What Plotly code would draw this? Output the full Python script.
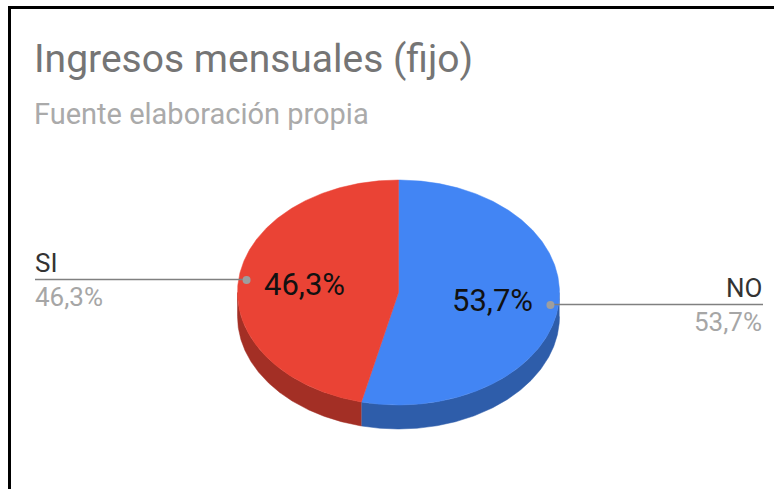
import numpy as np
import plotly.graph_objects as go

# Data
categories = ["NO", "SI"]
values = [53.7, 46.3]
value_labels = ["53,7%", "46,3%"]
title_text = "Ingresos mensuales (fijo)"
subtitle_text = "Fuente elaboración propia"

# Styling / geometry of the tilted pie (pixels of the 774x489 canvas)
W, H = 774, 489
CX, CY, RX, RY, DEPTH = 398.5, 292.5, 161.0, 112.5, 24.0
TOP_COLORS = ["#4285f4", "#ea4335"]
SIDE_COLORS = ["#2e5daa", "#a32f25"]
GREY_LINE = "#808080"
DOT = "#9e9e9e"
FONT = "Roboto"


def pt(deg, f=1.0, dy=0.0):
    a = np.radians(deg)
    return CX + RX * f * np.sin(a), CY - RY * f * np.cos(a) + dy


def arc(a0, a1, dy=0.0):
    n = max(2, int(abs(a1 - a0) * 2) + 1)
    return pt(np.linspace(a0, a1, n), 1.0, dy)


fig = go.Figure()
total = sum(values)
edges = np.cumsum([0] + values) / total * 360


def poly(x, y, color):
    fig.add_trace(go.Scatter(x=list(x), y=list(y), mode="lines", fill="toself",
                             fillcolor=color, line=dict(color=color, width=0.5),
                             hoverinfo="skip", showlegend=False))


# Extruded side, only the part facing the viewer (90deg..270deg)
for i in range(len(values)):
    a0, a1 = max(edges[i], 90), min(edges[i + 1], 270)
    if a1 > a0:
        x0, y0 = arc(a0, a1)
        x1, y1 = arc(a1, a0, DEPTH)
        poly(np.r_[x0, x1], np.r_[y0, y1], SIDE_COLORS[i])

# Top face
for i in range(len(values)):
    x, y = arc(edges[i], edges[i + 1])
    poly(np.r_[CX, x, CX], np.r_[CY, y, CY], TOP_COLORS[i])

# Leader lines, dots, in-slice labels and outside labels
annotations = []
LINE_END = {"NO": 763, "SI": 35}
for i, cat in enumerate(categories):
    mid = (edges[i] + edges[i + 1]) / 2
    dx, dy = pt(mid, 0.95)
    end = LINE_END[cat]
    right = cat == "NO"
    fig.add_trace(go.Scatter(x=[dx, end], y=[dy - 0.5, dy - 0.5], mode="lines",
                             line=dict(color=GREY_LINE, width=1.5),
                             hoverinfo="skip", showlegend=False))
    fig.add_trace(go.Scatter(x=[dx], y=[dy], mode="markers",
                             marker=dict(color=DOT, size=8),
                             hoverinfo="skip", showlegend=False))
    ix, iy = pt(mid, 0.585)
    annotations.append(dict(x=ix, y=iy, text=value_labels[i], showarrow=False,
                            xanchor="center", yanchor="middle",
                            font=dict(family=FONT, size=31, color="#111111")))
    anchor = "right" if right else "left"
    tx = end + 1 if right else end - 2
    annotations.append(dict(x=tx, y=dy - 17, text=cat, showarrow=False,
                            xanchor=anchor, yanchor="middle",
                            font=dict(family=FONT, size=26, color="#333333")))
    annotations.append(dict(x=tx, y=dy + 17, text=value_labels[i], showarrow=False,
                            xanchor=anchor, yanchor="middle",
                            font=dict(family=FONT, size=26, color="#a6a6a6")))

annotations.append(dict(x=32, y=114, text=subtitle_text, showarrow=False,
                        xanchor="left", yanchor="middle",
                        font=dict(family=FONT, size=29, color="#aaaaaa")))

frame = [
    dict(type="line", x0=8, x1=W, y0=7.5, y1=7.5, line=dict(color="#000000", width=3)),
    dict(type="line", x0=9.5, x1=9.5, y0=6, y1=H, line=dict(color="#000000", width=3)),
]

fig.update_layout(
    width=W, height=H, autosize=False,
    margin=dict(l=0, r=0, t=0, b=0),
    paper_bgcolor="#ffffff", plot_bgcolor="#ffffff",
    title=dict(text=title_text, x=34 / W, xanchor="left", xref="paper",
               y=1 - 58 / H, yanchor="middle", yref="paper",
               font=dict(family=FONT, size=39, color="#757575")),
    xaxis=dict(range=[0, W], visible=False, fixedrange=True),
    yaxis=dict(range=[H, 0], visible=False, fixedrange=True),
    shapes=frame,
    annotations=annotations,
    showlegend=False,
)
fig.write_html("out.html", config=dict(displayModeBar=False),
               post_script="document.body.style.margin='0';document.body.style.overflow='hidden';")
